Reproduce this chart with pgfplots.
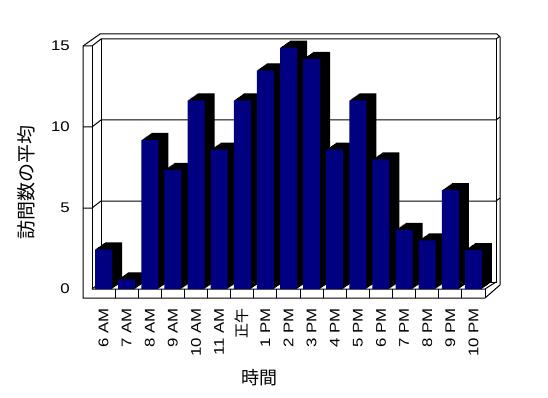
\documentclass[border=0pt]{standalone}
\usepackage{fontspec}
\setmainfont{Liberation Sans}
\newfontfamily\jp{Noto Sans CJK JP}
\newfontfamily\tickf[FakeStretch=1.2]{Liberation Sans}
\usepackage{pgfplots}
\pgfplotsset{compat=1.18}
\usepackage{pgfplotstable}
\definecolor{barnavy}{HTML}{000080}
\pgfplotstableread{
x y
0 2.45
1 0.6
2 9.2
3 7.35
4 11.65
5 8.6
6 11.65
7 13.5
8 14.9
9 14.2
10 8.6
11 11.65
12 8.0
13 3.65
14 3.0
15 6.1
16 2.4
}\visits
\begin{document}
\begin{tikzpicture}[x=1pt,y=1pt]
\path[use as bounding box] (0,0) rectangle (548,-398);
\begin{scope}[line width=1pt]
\draw[fill=white] (83,-46) -- (100,-34) -- (497,-34) -- (500,-37) -- (500,-285) -- (485,-298) -- (83,-298) -- cycle;
\draw (92,-46) -- (92,-289);
\draw (83,-46) -- (92,-46) -- (101,-39) -- (496,-39) -- (500,-36);
\draw (101,-39) -- (101,-282) -- (496,-282) -- (496,-39);
\draw (92,-289) -- (101,-282);
\draw (92,-289) -- (485,-289) -- (496,-282);
\draw (485,-298) -- (485,-289);
\draw (83,-208) -- (92,-208) -- (101,-201) -- (496,-201) -- (500,-198);
\draw (83,-127) -- (92,-127) -- (101,-120) -- (496,-120) -- (500,-117);
\foreach \k in {1,...,16} \draw ({92+23.1176*\k},-289) -- ({92+23.1176*\k},-298);
\end{scope}
\begin{axis}[at={(92pt,-289pt)}, anchor=south west, scale only axis,
  width=393pt, height=243pt,
  xmin=-0.5, xmax=16.5, ymin=0, ymax=15, clip=false,
  axis line style={draw=none}, major tick length=0pt,
  xtick=data,
  xticklabels={6 AM,7 AM,8 AM,9 AM,10 AM,11 AM,{\jp\fontsize{15}{15}\selectfont 正午},1 PM,2 PM,3 PM,4 PM,5 PM,6 PM,7 PM,8 PM,9 PM,10 PM},
  ytick={0,5,10,15},
  /pgf/number format/assume math mode=true,
  xticklabel style={font=\tickf\fontsize{14}{14}\selectfont, rotate=90, anchor=east, inner sep=0pt},
  yticklabel style={font=\tickf\fontsize{14}{14}\selectfont, anchor=east, inner sep=0pt},
  xticklabel shift=19pt, yticklabel shift=22pt,
]
\pgfplotsinvokeforeach{1,...,10}{
  \addplot[ybar, bar width=17pt, bar shift=0pt, fill=black, draw=none, xshift=#1pt, yshift={0.7*#1pt}] table[x=x,y=y]{\visits};
}
\addplot[ybar, bar width=17pt, bar shift=0pt, fill=barnavy, draw=none] table[x=x,y=y]{\visits};
\end{axis}
\node[rotate=90, font=\jp\fontsize{19}{19}\selectfont] at (26.5,-182) {訪問数の平均};
\node[font=\jp\fontsize{18}{18}\selectfont] at (259.5,-378) {時間};
\end{tikzpicture}
\end{document}
